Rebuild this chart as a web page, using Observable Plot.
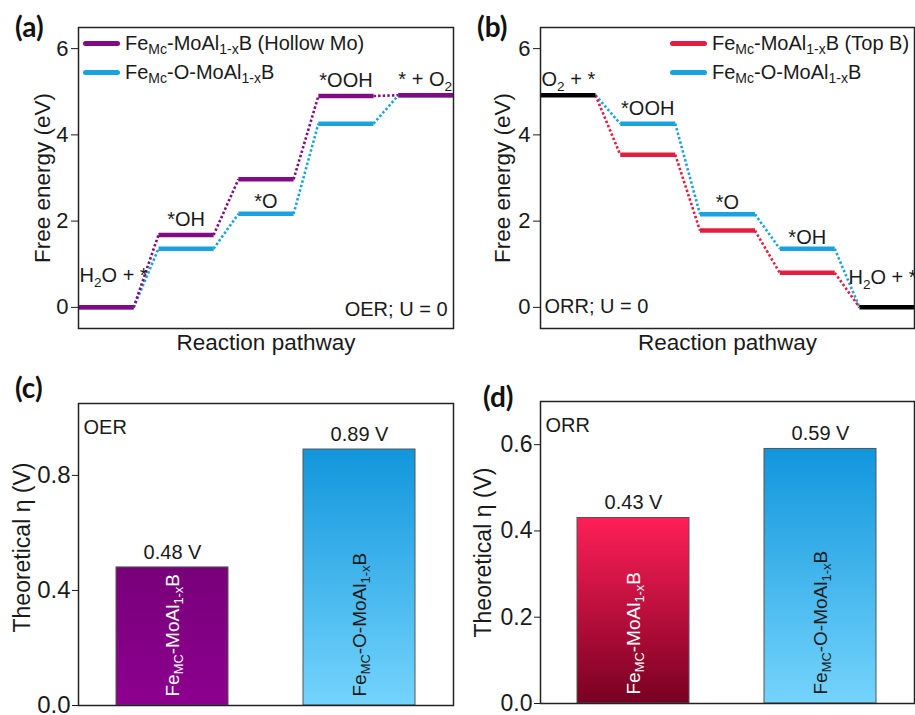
<!DOCTYPE html>
<html><head><meta charset="utf-8">
<script src="https://cdn.jsdelivr.net/npm/d3@7"></script>
<script src="https://cdn.jsdelivr.net/npm/@observablehq/plot@0.6"></script>
<style>
body{margin:0;background:#fff;width:915px;height:715px;position:relative;overflow:hidden;font-family:"Liberation Sans",Arial,sans-serif;color:#1a1a1a}
.panel{position:absolute}
.tag{position:absolute;font-family:Lato,"Open Sans",sans-serif;font-weight:700;font-size:28px;line-height:1;color:#111}
.leg{position:absolute;display:flex;align-items:center;font-size:20px;line-height:1;white-space:nowrap;height:20px}
.leg .sw{width:37px;height:5px;border-radius:3px;margin-right:5px}
sub{font-size:70%;line-height:0;vertical-align:-0.3em}
</style></head><body>
<div id="pa" class="panel" style="left:0;top:0"></div>
<div id="pb" class="panel" style="left:457px;top:0"></div>
<div id="pc" class="panel" style="left:0;top:360px"></div>
<div id="pd" class="panel" style="left:457px;top:360px"></div>
<div class="tag" style="left:15px;top:12px">(a)</div>
<div class="tag" style="left:477px;top:12px">(b)</div>
<div class="tag" style="left:15px;top:373px">(c)</div>
<div class="tag" style="left:483px;top:382px">(d)</div>
<div id="legends"></div>
<script>
// ---------------- data ----------------
const oerSteps = ["H_{2}O + *", "*OH", "*O", "*OOH", "* + O_{2}"];
const oerHollowMo = [0, 1.68, 2.97, 4.90, 4.92];
const oerOxide = [0, 1.36, 2.17, 4.26, 4.92];
const orrSteps = ["O_{2} + *", "*OOH", "*O", "*OH", "H_{2}O + *"];
const orrTopB = [4.92, 3.54, 1.78, 0.80, 0];
const orrOxide = [4.92, 4.26, 2.16, 1.36, 0];
const energyTicks = [0, 2, 4, 6];
const barNames = ["Fe_{MC}-MoAl_{1-x}B", "Fe_{MC}-O-MoAl_{1-x}B"];
const oerOverpotential = [0.48, 0.89];
const orrOverpotential = [0.43, 0.59];
const oerTicks = [0, 0.4, 0.8];
const orrTicks = [0, 0.2, 0.4, 0.6];
const legendA = ["Fe<sub>Mc</sub>-MoAl<sub>1-x</sub>B (Hollow Mo)", "Fe<sub>Mc</sub>-O-MoAl<sub>1-x</sub>B"];
const legendB = ["Fe<sub>Mc</sub>-MoAl<sub>1-x</sub>B (Top B)", "Fe<sub>Mc</sub>-O-MoAl<sub>1-x</sub>B"];

// ---------------- style ----------------
const PURPLE = "#820a84", BLUE = "#1aa2e0", RED = "#e31d3f", INK = "#1a1a1a";
const W = 0.69, X_MAX = 4 + W;
const SVG_STYLE = "font-family:'Liberation Sans',Arial,sans-serif;font-size:20px;overflow:visible;background:transparent;color:#1a1a1a;";

function subscripts(root) {
  const ns = "http://www.w3.org/2000/svg";
  const SCALE = 0.68, SHIFT = 0.36; // shift in em of the small font
  root.querySelectorAll("text").forEach(t => {
    const s = t.textContent;
    if (!s.includes("_{")) return;
    while (t.firstChild) t.removeChild(t.firstChild);
    const re = /_\{([^}]*)\}/g;
    let last = 0, m, pendingReturn = false;
    const normal = (str) => {
      const sp = document.createElementNS(ns, "tspan");
      sp.textContent = str;
      if (pendingReturn) { sp.setAttribute("dy", (-SHIFT * SCALE).toFixed(3) + "em"); pendingReturn = false; }
      t.appendChild(sp);
    };
    while ((m = re.exec(s))) {
      if (m.index > last) normal(s.slice(last, m.index));
      const sp = document.createElementNS(ns, "tspan");
      sp.setAttribute("font-size", (SCALE * 100) + "%");
      sp.setAttribute("dy", SHIFT + "em");
      sp.textContent = m[1];
      t.appendChild(sp);
      pendingReturn = true;
      last = re.lastIndex;
    }
    if (last < s.length) normal(s.slice(last));
  });
}

function energyPanel(o) {
  const marks = [];
  const n = o.steps.length;
  for (const s of o.series) {
    const cn = s.values.slice(1).map((v, i) => ({x1: i + W, x2: i + 1, y1: s.values[i], y2: v}));
    marks.push(Plot.link(cn, {x1: "x1", x2: "x2", y1: "y1", y2: "y2", stroke: s.color, strokeWidth: 2.6, strokeDasharray: "2.4,2.2"}));
  }
  for (const s of o.series) {
    const lv = s.values.map((v, i) => ({x1: i, x2: i + W, y: v, i}))
      .filter(d => !o.endColor || (d.i > 0 && d.i < n - 1));
    marks.push(Plot.link(lv, {x1: "x1", x2: "x2", y1: "y", y2: "y", stroke: s.color, strokeWidth: 4.5}));
  }
  if (o.endColor) {
    const ref = o.series[0].values;
    const ends = [0, n - 1].map(i => ({x1: i, x2: i + W, y: ref[i]}));
    marks.push(Plot.link(ends, {x1: "x1", x2: "x2", y1: "y", y2: "y", stroke: o.endColor, strokeWidth: 4.5}));
  }
  o.steps.forEach((t, i) => {
    const L = o.labels[i];
    const v = o.series[L.s].values[i];
    marks.push(Plot.text([{t, x: L.a === "start" ? i : i + W / 2, y: v}], {
      x: "x", y: "y", text: "t", textAnchor: L.a, dx: L.dx || 0, dy: L.dy, fill: INK, fontSize: 20
    }));
  });
  marks.push(Plot.axisY({ticks: energyTicks, tickFormat: d3.format("d"), tickSize: 7, tickPadding: 3, fontSize: 22, label: null}));
  marks.push(Plot.frame({stroke: "#222", strokeWidth: 1.5}));
  marks.push(Plot.text([o.note], {text: d => d, frameAnchor: o.noteAnchor, dx: o.noteDx, dy: o.noteDy, textAnchor: o.noteAnchor.endsWith("right") ? "end" : "start", fill: INK, fontSize: 20}));
  marks.push(Plot.text(["Reaction pathway"], {text: d => d, frameAnchor: "bottom", textAnchor: "middle", dy: 21, fill: INK, fontSize: 22.5}));
  marks.push(Plot.text(["Free energy (eV)"], {text: d => d, frameAnchor: "left", textAnchor: "middle", rotate: -90, dx: o.titleDx, fill: INK, fontSize: 22.5}));
  const svg = Plot.plot({
    width: o.width, height: 360,
    marginTop: 27, marginBottom: 32, marginLeft: o.ml, marginRight: o.mr,
    x: {domain: [0, X_MAX], axis: null},
    y: {domain: [-0.49, 6.49], axis: null},
    style: SVG_STYLE,
    marks
  });
  subscripts(svg);
  return svg;
}

function addGradient(svg, id, top, bottom) {
  const ns = "http://www.w3.org/2000/svg";
  let defs = svg.querySelector("defs");
  if (!defs) { defs = document.createElementNS(ns, "defs"); svg.insertBefore(defs, svg.firstChild); }
  const g = document.createElementNS(ns, "linearGradient");
  g.setAttribute("id", id); g.setAttribute("x1", "0"); g.setAttribute("y1", "0"); g.setAttribute("x2", "0"); g.setAttribute("y2", "1");
  [[0, top], [1, bottom]].forEach(([off, c]) => {
    const st = document.createElementNS(ns, "stop");
    st.setAttribute("offset", off); st.setAttribute("stop-color", c);
    g.appendChild(st);
  });
  defs.appendChild(g);
}

function barPanel(o) {
  const data = barNames.map((name, i) => ({name, value: o.values[i], fill: `url(#${o.grads[i].id})`, tfill: o.textFills[i], v: o.values[i].toFixed(2) + " V"}));
  const svg = Plot.plot({
    width: o.width, height: 355,
    marginTop: o.mt, marginBottom: o.mb, marginLeft: o.ml, marginRight: o.mr,
    x: {type: "band", domain: barNames, paddingInner: 0.4, paddingOuter: 0.2, axis: null},
    y: {domain: o.domain, axis: null},
    color: {type: "identity"},
    style: SVG_STYLE,
    marks: [
      Plot.barY(data, {x: "name", y: "value", fill: "fill", stroke: "#555", strokeWidth: 1}),
      Plot.text(data, {x: "name", y: "value", text: "v", dy: -15, fill: INK, fontSize: 20}),
      Plot.text(data, {x: "name", y: () => 0, text: "name", rotate: -90, textAnchor: "start", dy: -9, fill: "tfill", fontSize: 19}),
      Plot.axisY({ticks: o.ticks, tickFormat: d3.format(".1f"), tickSize: 6, tickPadding: 2, fontSize: o.tickFont, label: null}),
      Plot.frame({stroke: "#222", strokeWidth: 1.5}),
      Plot.text([o.note], {text: d => d, frameAnchor: "top-left", dx: 5, dy: 16, textAnchor: "start", fill: INK, fontSize: 20}),
      Plot.text(["Theoretical η (V)"], {text: d => d, frameAnchor: "left", textAnchor: "middle", rotate: -90, dx: o.titleDx, dy: o.titleDy, fill: INK, fontSize: 23})
    ]
  });
  o.grads.forEach(g => addGradient(svg, g.id, g.top, g.bottom));
  subscripts(svg);
  return svg;
}

document.getElementById("pa").appendChild(energyPanel({
  width: 457, ml: 78, mr: 4, titleDx: -36,
  steps: oerSteps,
  series: [{values: oerOxide, color: BLUE}, {values: oerHollowMo, color: PURPLE}],
  labels: [{s: 0, a: "start", dx: 1, dy: -32}, {s: 1, a: "middle", dy: -15}, {s: 0, a: "middle", dy: -12.5}, {s: 1, a: "middle", dy: -15.5}, {s: 1, a: "start", dy: -16}],
  note: "OER; U = 0", noteAnchor: "bottom-right", noteDx: -6, noteDy: -13
}));

document.getElementById("pb").appendChild(energyPanel({
  width: 458, ml: 83, mr: 1, titleDx: -38,
  steps: orrSteps, endColor: "#000",
  series: [{values: orrOxide, color: BLUE}, {values: orrTopB, color: RED}],
  labels: [{s: 0, a: "start", dx: 1, dy: -16}, {s: 0, a: "middle", dy: -15}, {s: 0, a: "middle", dy: -12}, {s: 0, a: "middle", dy: -11}, {s: 0, a: "start", dx: -11, dy: -30}],
  note: "ORR; U = 0", noteAnchor: "bottom-left", noteDx: 4, noteDy: -16
}));

document.getElementById("pc").appendChild(barPanel({
  width: 457, mt: 43, mb: 10, ml: 78, mr: 4, titleDx: -56, titleDy: -7, tickFont: 24,
  values: oerOverpotential, domain: [0, 1.05], ticks: oerTicks, note: "OER",
  grads: [{id: "gPurple", top: "#78007a", bottom: "#8c008e"}, {id: "gBlueC", top: "#1196dc", bottom: "#74d4fc"}],
  textFills: ["#ffffff", "#1a1a1a"]
}));

document.getElementById("pd").appendChild(barPanel({
  width: 458, mt: 41, mb: 12, ml: 83, mr: 1, titleDx: -57, titleDy: 0, tickFont: 23,
  values: orrOverpotential, domain: [0, 0.70], ticks: orrTicks, note: "ORR",
  grads: [{id: "gRed", top: "#ff1f58", bottom: "#780022"}, {id: "gBlueD", top: "#1196dc", bottom: "#74d4fc"}],
  textFills: ["#ffffff", "#1a1a1a"]
}));

// legends
function legend(left, items, colors) {
  const host = document.getElementById("legends");
  items.forEach((html, i) => {
    const row = document.createElement("div");
    row.className = "leg";
    row.style.left = left + "px";
    row.style.top = (33 + i * 29) + "px";
    row.innerHTML = `<div class="sw" style="background:${colors[i]}"></div><span>${html}</span>`;
    host.appendChild(row);
  });
}
legend(83, legendA, [PURPLE, BLUE]);
legend(670, legendB, [RED, BLUE]);
</script>
</body></html>
